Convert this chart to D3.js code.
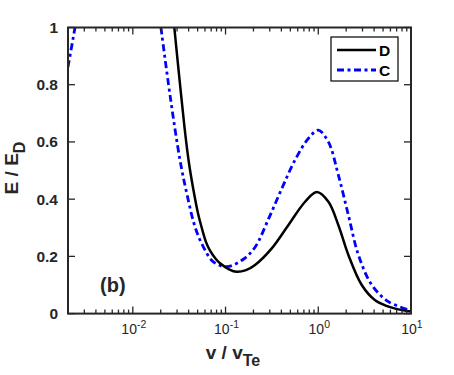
<!DOCTYPE html>
<html><head><meta charset="utf-8">
<script src="https://cdn.jsdelivr.net/npm/d3@7"></script>
<style>body{margin:0;background:#fff}svg{display:block}text{font-family:"Liberation Sans",Arial,sans-serif}</style>
</head><body><svg id="c" width="454" height="375"></svg>
<script>
// ---- data ----
const seriesNames = ["D", "C"];
const seriesColors = ["#000000", "#0000ff"];
const dV = [0.02803, 0.0323, 0.03612, 0.04018, 0.04517, 0.05051, 0.05537, 0.06162, 0.06805, 0.07898, 0.08724, 0.1091, 0.132, 0.1663, 0.208, 0.315, 0.475, 0.721, 0.964, 1.286, 1.648, 2.113, 2.944, 4.10, 6.21, 10];
const dE = [1.0, 0.80, 0.65, 0.53, 0.43, 0.35, 0.30, 0.25, 0.22, 0.19, 0.176, 0.155, 0.146, 0.152, 0.170, 0.228, 0.309, 0.391, 0.425, 0.391, 0.309, 0.205, 0.100, 0.047, 0.021, 0.007];
const cLeftV = [0.002, 0.00238, 0.0026];
const cLeftE = [0.862, 1.0, 1.07];
const cV = [0.0201, 0.0252, 0.0323, 0.0382, 0.0469, 0.0576, 0.0738, 0.103, 0.1556, 0.208, 0.290, 0.404, 0.562, 0.782, 1.0, 1.286, 1.648, 2.113, 2.71, 3.78, 5.70, 10];
const cE = [1.0, 0.763, 0.536, 0.420, 0.303, 0.2335, 0.181, 0.164, 0.190, 0.232, 0.330, 0.437, 0.537, 0.612, 0.641, 0.600, 0.484, 0.344, 0.205, 0.100, 0.042, 0.011];
const xMajor = [0.01, 0.1, 1, 10];
const xMajorExp = ["-2", "-1", "0", "1"];
const yTicks = [0, 0.2, 0.4, 0.6, 0.8, 1];
const yTickLabels = ["0", "0.2", "0.4", "0.6", "0.8", "1"];

// ---- layout ----
const L = 68, R = 411, T = 27.5, B = 313.6;
const x = d3.scaleLog().domain([0.002, 10]).range([L, R]);
const y = d3.scaleLinear().domain([0, 1]).range([B, T]);
const svg = d3.select("#c");
const axisCol = "#262626";
const dash = "7,3.5,3,3.5";

svg.append("defs").append("clipPath").attr("id", "clip")
  .append("rect").attr("x", L).attr("y", T).attr("width", R - L).attr("height", B - T);

const line = d3.line().x(d => x(d[0])).y(d => y(d[1])).curve(d3.curveCatmullRom.alpha(0.5));
const g = svg.append("g").attr("clip-path", "url(#clip)");
const zip = (a, b) => a.map((v, i) => [v, b[i]]);

g.append("path").attr("d", line(zip(cLeftV, cLeftE))).attr("fill", "none")
  .attr("stroke", seriesColors[1]).attr("stroke-width", 2.8).attr("stroke-dasharray", dash);
g.append("path").attr("d", line(zip(cV, cE))).attr("fill", "none")
  .attr("stroke", seriesColors[1]).attr("stroke-width", 2.8).attr("stroke-dasharray", dash);
g.append("path").attr("d", line(zip(dV, dE))).attr("fill", "none")
  .attr("stroke", seriesColors[0]).attr("stroke-width", 2.5);

// ---- ticks ----
const minor = [];
for (let e = -3; e <= 0; e++) for (let m = 2; m <= 9; m++) { const v = m * Math.pow(10, e); if (v >= 0.002 && v <= 10) minor.push(v); }
const tg = svg.append("g").attr("stroke", axisCol).attr("stroke-width", 1.3);
minor.forEach(v => {
  tg.append("line").attr("x1", x(v)).attr("x2", x(v)).attr("y1", B).attr("y2", B - 4);
  tg.append("line").attr("x1", x(v)).attr("x2", x(v)).attr("y1", T).attr("y2", T + 4);
});
xMajor.forEach(v => {
  tg.append("line").attr("x1", x(v)).attr("x2", x(v)).attr("y1", B).attr("y2", B - 7);
  tg.append("line").attr("x1", x(v)).attr("x2", x(v)).attr("y1", T).attr("y2", T + 7);
});
yTicks.forEach(v => {
  tg.append("line").attr("x1", L).attr("x2", L + 7).attr("y1", y(v)).attr("y2", y(v));
  tg.append("line").attr("x1", R).attr("x2", R - 7).attr("y1", y(v)).attr("y2", y(v));
});
svg.append("rect").attr("x", L).attr("y", T).attr("width", R - L).attr("height", B - T)
  .attr("fill", "none").attr("stroke", axisCol).attr("stroke-width", 2);

// tick labels
xMajor.forEach((v, i) => {
  const t = svg.append("text").attr("x", x(v) + 1).attr("y", B + 20).attr("text-anchor", "middle")
    .attr("font-size", 14).attr("fill", axisCol);
  t.append("tspan").text("10");
  t.append("tspan").attr("dy", -6).attr("font-size", 10.5).text(xMajorExp[i]);
});
yTicks.forEach((v, i) => {
  svg.append("text").attr("x", L - 10).attr("y", y(v) + 5.5).attr("text-anchor", "end")
    .attr("font-size", 15.5).attr("font-weight", "bold").attr("fill", axisCol).text(yTickLabels[i]);
});

// axis labels
const xl = svg.append("text").attr("x", 233).attr("y", 359).attr("text-anchor", "middle")
  .attr("font-size", 19).attr("font-weight", "bold").attr("fill", axisCol);
xl.append("tspan").text("v / v");
xl.append("tspan").attr("dy", 7).attr("font-size", 16).text("Te");

const yl = svg.append("text").attr("transform", "translate(18,168) rotate(-90)").attr("text-anchor", "middle")
  .attr("font-size", 19).attr("font-weight", "bold").attr("fill", axisCol);
yl.append("tspan").text("E / E");
yl.append("tspan").attr("dy", 7).attr("font-size", 16).text("D");

svg.append("text").attr("x", 100).attr("y", 292).attr("font-size", 20).attr("font-weight", "bold")
  .attr("fill", axisCol).text("(b)");

// legend
const lg = svg.append("g");
lg.append("rect").attr("x", 331).attr("y", 37).attr("width", 67).attr("height", 44)
  .attr("fill", "#fff").attr("stroke", "#000").attr("stroke-width", 1.2);
seriesNames.forEach((n, i) => {
  const yy = 50 + i * 20;
  lg.append("line").attr("x1", 337).attr("x2", 376).attr("y1", yy).attr("y2", yy)
    .attr("stroke", seriesColors[i]).attr("stroke-width", i ? 2.8 : 2.5)
    .attr("stroke-dasharray", i ? dash : null);
  lg.append("text").attr("x", 379).attr("y", yy + 5.5).attr("font-size", 15.5).attr("font-weight", "bold")
    .attr("fill", "#000").text(n);
});
</script></body></html>
